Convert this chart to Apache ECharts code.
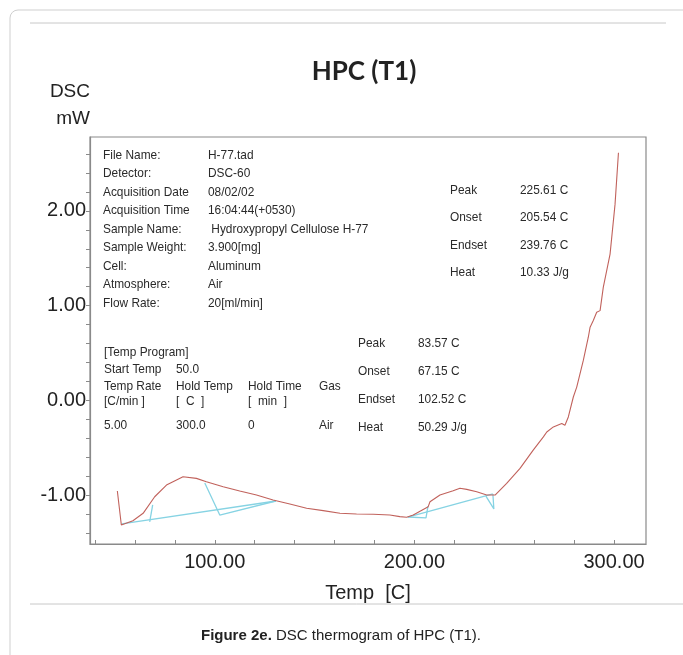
<!DOCTYPE html>
<html><head><meta charset="utf-8">
<script src="https://cdn.jsdelivr.net/npm/echarts@6/dist/echarts.min.js"></script>
<style>html,body{margin:0;padding:0;background:#fff}#c{width:683px;height:655px}</style>
</head><body><div id="c"></div>
<script>
// ---- data ----
const tempC = [51.2,53.2,59.0,64.1,69.9,75.8,84.1,90.8,95.8,104.2,112.5,120.9,129.2,137.6,146.0,154.3,162.7,171.0,179.3,187.7,192.7,196.1,199.4,206.9,207.8,212.8,219.4,222.8,226.2,231.2,236.2,240.4,246.2,252.9,259.5,264.6,266.3,269.6,273.8,275.4,277.1,279.6,281.3,284.6,287.1,288.0,289.6,291.3,293.0,294.6,298.0,300.5,302.2];
const dscMW = [-0.958,-1.316,-1.271,-1.193,-1.018,-0.895,-0.807,-0.824,-0.86,-0.913,-0.958,-1.0,-1.053,-1.095,-1.14,-1.165,-1.193,-1.2,-1.203,-1.211,-1.228,-1.235,-1.211,-1.123,-1.071,-1.0,-0.955,-0.929,-0.94,-0.965,-1.0,-1.0,-0.877,-0.719,-0.526,-0.386,-0.334,-0.281,-0.245,-0.263,-0.176,0.035,0.14,0.421,0.666,0.772,0.842,0.929,0.947,1.193,1.544,2.071,2.614];
// analysis baseline / tangent segments (temp, mW)
const peak1Base = [[53.4,-1.305],[130.6,-1.063]];
const peak1Onset = [[68.9,-1.105],[67.4,-1.284]];
const peak1Endset = [[95.0,-0.874],[102.5,-1.211],[130.6,-1.063]];
const peak2Base = [[196.7,-1.232],[239.3,-0.989]];
const peak2Onset = [[206.8,-1.116],[205.8,-1.242],[196.7,-1.232]];
const peak2Endset = [[235.8,-1.011],[239.8,-1.147],[239.3,-0.989]];
// ticks
const xTicks = [40,60,80,100,120,140,160,180,200,220,240,260,280,300];
const xLabels = [100,200,300];
const yTicks = [-1.4,-1.2,-1.0,-0.8,-0.6,-0.4,-0.2,0,0.2,0.4,0.6,0.8,1.0,1.2,1.4,1.6,1.8,2.0,2.2,2.4,2.6];
const yLabels = [-1,0,1,2];
// texts
const infoLabels = ['File Name:','Detector:','Acquisition Date','Acquisition Time','Sample Name:','Sample Weight:','Cell:','Atmosphere:','Flow Rate:'];
const infoValues = ['H-77.tad','DSC-60','08/02/02','16:04:44(+0530)',' Hydroxypropyl Cellulose H-77','3.900[mg]','Aluminum','Air','20[ml/min]'];
const peakLabels = ['Peak','Onset','Endset','Heat'];
const peak2Values = ['225.61 C','205.54 C','239.76 C','10.33 J/g'];
const peak1Values = ['83.57 C','67.15 C','102.52 C','50.29 J/g'];
const progRows = [
  ['[Temp Program]'],
  ['Start Temp','50.0'],
  ['Temp Rate','Hold Temp','Hold Time','Gas'],
  ['[C/min ]','[  C  ]','[  min  ]'],
  ['5.00','300.0','0','Air']
];

// ---- layout helpers ----
const NF = "'Liberation Sans',Arial,sans-serif";
const TXT = '#2a2a2a';
const g = [];
function t(text, x, y, size) {
  g.push({type:'text', x:x, y:y, scaleX:0.88, style:{text:text, font: size+'px '+NF, fill:TXT, verticalAlign:'middle'}});
}
infoLabels.forEach((s,i)=>t(s,103,155+i*18.5,13.5));
infoValues.forEach((s,i)=>t(s,208,155+i*18.5,13.5));
peakLabels.forEach((s,i)=>t(s,450,190+i*27.5,13.5));
peak2Values.forEach((s,i)=>t(s,520,190+i*27.5,13.5));
peakLabels.forEach((s,i)=>t(s,358,343+i*28,13.5));
peak1Values.forEach((s,i)=>t(s,418,343+i*28,13.5));
const progY = [352,369.5,386.7,401,425];
const progX = [104,176,248,319];
progRows.forEach((row,r)=>row.forEach((s,c)=>t(s,progX[c],progY[r],13.5)));

// frame, rules, caption
g.push({type:'rect', shape:{x:10,y:10,width:720,height:700,r:8}, style:{fill:'none',stroke:'#cfcfcf',lineWidth:1}, silent:true});
g.push({type:'line', shape:{x1:30,y1:23,x2:666,y2:23}, style:{stroke:'#c8c8c8',lineWidth:1}});
g.push({type:'line', shape:{x1:30,y1:604,x2:683,y2:604}, style:{stroke:'#c8c8c8',lineWidth:1}});
g.push({type:'text', x:341, y:636, style:{
  text:'{b|Figure 2e.} DSC thermogram of HPC (T1).', align:'center', verticalAlign:'middle',
  font:"15px 'Liberation Sans',Arial,sans-serif", fill:'#222',
  rich:{b:{fontWeight:'bold', fontSize:15, fontFamily:"'Liberation Sans',Arial,sans-serif", fill:'#222'}}
}});

const axisGray = '#8a8a8a';
const option = {
  animation:false,
  backgroundColor:'#fff',
  title:{text:'HPC (T1)', left:359, top:54, textAlign:'center',
    textStyle:{fontFamily:'Lato', fontWeight:'bold', fontSize:26, color:'#222'}},
  grid:{left:90, right:37, top:137, bottom:111, show:true, borderColor:axisGray, borderWidth:1.2},
  xAxis:{type:'value', min:37.5, max:316,
    name:'Temp  [C]', nameLocation:'middle', nameGap:39,
    nameTextStyle:{fontFamily:NF, fontSize:20, color:'#222'},
    axisLine:{show:true, onZero:false, lineStyle:{color:axisGray, width:1.2}},
    axisTick:{show:true, inside:true, length:4, customValues:xTicks, lineStyle:{color:axisGray}},
    axisLabel:{customValues:xLabels, formatter:v=>v.toFixed(2), fontFamily:NF, fontSize:20, color:'#222', margin:8},
    splitLine:{show:false}},
  yAxis:{type:'value', min:-1.517, max:2.78,
    name:'DSC\nmW', nameLocation:'end', nameGap:5,
    nameTextStyle:{fontFamily:NF, fontSize:19, color:'#222', align:'right', verticalAlign:'bottom', lineHeight:27},
    axisLine:{show:true, onZero:false, lineStyle:{color:axisGray, width:1.2}},
    axisTick:{show:true, inside:false, length:4, customValues:yTicks, lineStyle:{color:axisGray}},
    axisLabel:{customValues:yLabels, formatter:v=>v.toFixed(2), fontFamily:NF, fontSize:20, color:'#222', margin:4},
    splitLine:{show:false}},
  graphic:g,
  series:[]
};
const cyan = '#86d3e3';
[peak1Base,peak1Onset,peak1Endset,peak2Base,peak2Onset,peak2Endset].forEach(seg=>{
  option.series.push({type:'line', data:seg, symbol:'none', silent:true, lineStyle:{color:cyan, width:1.3}, z:2});
});
option.series.push({type:'line', data:tempC.map((x,i)=>[x,dscMW[i]]), symbol:'none', silent:true,
  lineStyle:{color:'#c1625c', width:1.1}, z:3});
echarts.init(document.getElementById('c')).setOption(option);
</script></body></html>
